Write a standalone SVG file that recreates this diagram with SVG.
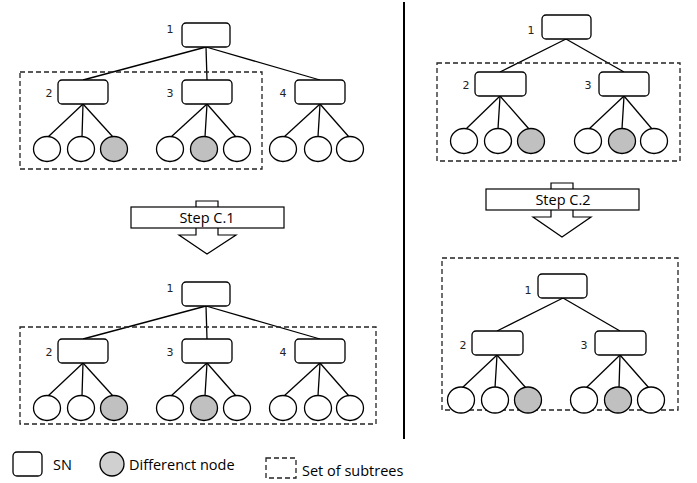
<svg xmlns="http://www.w3.org/2000/svg" width="697" height="483" viewBox="0 0 697 483">
<style>
.sn{fill:#fff;stroke:#000;stroke-width:1.3}
.lf{fill:#fff;stroke:#000;stroke-width:1.3}
.df{fill:#c0c0c0;stroke:#000;stroke-width:1.3}
.ed{stroke:#000;stroke-width:1.3;fill:none}
.box{fill:none;stroke:#222;stroke-width:1.3;stroke-dasharray:5 3}
.num{font-family:"DejaVu Sans",sans-serif;font-size:11px;fill:#222;text-anchor:middle}
.txt{font-family:"Open Sans",sans-serif;font-size:14.5px;fill:#000}
.arr{fill:#fff;stroke:#000;stroke-width:1.2}
</style>
<rect width="697" height="483" fill="#fff"/>
<line x1="404" y1="2" x2="404" y2="439" stroke="#000" stroke-width="2"/>

<!-- connectors -->
<g id="connectors" class="ed">
<!-- top-left -->
<line x1="206" y1="47" x2="83" y2="80"/><line x1="206" y1="47" x2="207" y2="80"/><line x1="206" y1="47" x2="320" y2="80"/>
<line x1="83" y1="104" x2="48" y2="137"/><line x1="83" y1="104" x2="82" y2="137"/><line x1="83" y1="104" x2="113" y2="137"/>
<line x1="207" y1="104" x2="171" y2="137"/><line x1="207" y1="104" x2="205" y2="137"/><line x1="207" y1="104" x2="236" y2="137"/>
<line x1="320" y1="104" x2="284" y2="137"/><line x1="320" y1="104" x2="318" y2="137"/><line x1="320" y1="104" x2="349" y2="137"/>
<!-- bottom-left -->
<line x1="206" y1="306" x2="83" y2="339"/><line x1="206" y1="306" x2="207" y2="339"/><line x1="206" y1="306" x2="320" y2="339"/>
<line x1="83" y1="363" x2="48" y2="396"/><line x1="83" y1="363" x2="82" y2="396"/><line x1="83" y1="363" x2="113" y2="396"/>
<line x1="207" y1="363" x2="171" y2="396"/><line x1="207" y1="363" x2="205" y2="396"/><line x1="207" y1="363" x2="236" y2="396"/>
<line x1="320" y1="363" x2="284" y2="396"/><line x1="320" y1="363" x2="318" y2="396"/><line x1="320" y1="363" x2="349" y2="396"/>
<!-- top-right -->
<line x1="566" y1="39" x2="500" y2="72"/><line x1="566" y1="39" x2="624" y2="72"/>
<line x1="500" y1="96" x2="466" y2="129"/><line x1="500" y1="96" x2="498" y2="129"/><line x1="500" y1="96" x2="529" y2="129"/>
<line x1="624" y1="96" x2="589" y2="129"/><line x1="624" y1="96" x2="622" y2="129"/><line x1="624" y1="96" x2="652" y2="129"/>
<!-- bottom-right -->
<line x1="563" y1="298" x2="497" y2="331"/><line x1="563" y1="298" x2="620" y2="331"/>
<line x1="497" y1="355" x2="462" y2="388"/><line x1="497" y1="355" x2="495" y2="388"/><line x1="497" y1="355" x2="526" y2="388"/>
<line x1="620" y1="355" x2="586" y2="388"/><line x1="620" y1="355" x2="619" y2="388"/><line x1="620" y1="355" x2="649" y2="388"/>
</g>

<!-- dashed subtree sets -->
<rect class="box" x="20" y="72" width="242" height="97"/>
<rect class="box" x="20" y="327" width="356" height="97"/>
<rect class="box" x="437" y="63" width="243" height="98"/>
<rect class="box" x="442" y="258" width="236" height="152"/>

<!-- top-left tree -->
<g id="tl-n1"><rect class="sn" x="182" y="23" width="48" height="24" rx="4"/><text class="num" x="170" y="33">1</text></g>
<g id="tl-n2"><rect class="sn" x="58" y="80" width="50" height="24" rx="4"/><text class="num" x="49" y="97">2</text></g>
<g id="tl-n3"><rect class="sn" x="182" y="80" width="50" height="24" rx="4"/><text class="num" x="170" y="97">3</text></g>
<g id="tl-n4"><rect class="sn" x="295" y="80" width="50" height="24" rx="4"/><text class="num" x="283" y="97">4</text></g>
<g id="tl-leaves">
<ellipse class="lf" cx="47" cy="149" rx="13.5" ry="12.5"/><ellipse class="lf" cx="81" cy="149" rx="13.5" ry="12.5"/><ellipse class="df" cx="114" cy="149" rx="13.5" ry="12.5"/>
<ellipse class="lf" cx="170" cy="149" rx="13.5" ry="12.5"/><ellipse class="df" cx="204" cy="149" rx="13.5" ry="12.5"/><ellipse class="lf" cx="237" cy="149" rx="13.5" ry="12.5"/>
<ellipse class="lf" cx="283" cy="149" rx="13.5" ry="12.5"/><ellipse class="lf" cx="318" cy="149" rx="13.5" ry="12.5"/><ellipse class="lf" cx="350" cy="149" rx="13.5" ry="12.5"/>
</g>

<!-- bottom-left tree -->
<g id="bl-n1"><rect class="sn" x="182" y="282" width="48" height="24" rx="4"/><text class="num" x="170" y="292">1</text></g>
<g id="bl-n2"><rect class="sn" x="58" y="339" width="50" height="24" rx="4"/><text class="num" x="49" y="356">2</text></g>
<g id="bl-n3"><rect class="sn" x="182" y="339" width="50" height="24" rx="4"/><text class="num" x="170" y="356">3</text></g>
<g id="bl-n4"><rect class="sn" x="295" y="339" width="50" height="24" rx="4"/><text class="num" x="283" y="356">4</text></g>
<g id="bl-leaves">
<ellipse class="lf" cx="47" cy="408" rx="13.5" ry="12.5"/><ellipse class="lf" cx="81" cy="408" rx="13.5" ry="12.5"/><ellipse class="df" cx="114" cy="408" rx="13.5" ry="12.5"/>
<ellipse class="lf" cx="170" cy="408" rx="13.5" ry="12.5"/><ellipse class="df" cx="204" cy="408" rx="13.5" ry="12.5"/><ellipse class="lf" cx="237" cy="408" rx="13.5" ry="12.5"/>
<ellipse class="lf" cx="283" cy="408" rx="13.5" ry="12.5"/><ellipse class="lf" cx="318" cy="408" rx="13.5" ry="12.5"/><ellipse class="lf" cx="350" cy="408" rx="13.5" ry="12.5"/>
</g>

<!-- top-right tree -->
<g id="tr-n1"><rect class="sn" x="542" y="15" width="49" height="24" rx="4"/><text class="num" x="531" y="34">1</text></g>
<g id="tr-n2"><rect class="sn" x="475" y="72" width="51" height="24" rx="4"/><text class="num" x="466" y="89">2</text></g>
<g id="tr-n3"><rect class="sn" x="599" y="72" width="50" height="24" rx="4"/><text class="num" x="588" y="89">3</text></g>
<g id="tr-leaves">
<ellipse class="lf" cx="464" cy="141" rx="13.5" ry="12.5"/><ellipse class="lf" cx="498" cy="141" rx="13.5" ry="12.5"/><ellipse class="df" cx="531" cy="141" rx="13.5" ry="12.5"/>
<ellipse class="lf" cx="588" cy="141" rx="13.5" ry="12.5"/><ellipse class="df" cx="622" cy="141" rx="13.5" ry="12.5"/><ellipse class="lf" cx="654" cy="141" rx="13.5" ry="12.5"/>
</g>

<!-- bottom-right tree -->
<g id="br-n1"><rect class="sn" x="538" y="274" width="49" height="24" rx="4"/><text class="num" x="528" y="294">1</text></g>
<g id="br-n2"><rect class="sn" x="472" y="331" width="51" height="24" rx="4"/><text class="num" x="463" y="349">2</text></g>
<g id="br-n3"><rect class="sn" x="595" y="331" width="51" height="24" rx="4"/><text class="num" x="584" y="349">3</text></g>
<g id="br-leaves">
<ellipse class="lf" cx="461" cy="400" rx="13.5" ry="13"/><ellipse class="lf" cx="495" cy="400" rx="13.5" ry="13"/><ellipse class="df" cx="528" cy="400" rx="13.5" ry="13"/>
<ellipse class="lf" cx="584" cy="400" rx="13.5" ry="13"/><ellipse class="df" cx="618" cy="400" rx="13.5" ry="13"/><ellipse class="lf" cx="651" cy="400" rx="13.5" ry="13"/>
</g>

<!-- step arrows -->
<g id="step-c1">
<polygon class="arr" points="196,201 218,201 218,235 236,235 207,254 179,235 196,235"/>
<rect class="arr" x="131" y="207" width="153" height="21"/>
<text class="txt" x="207" y="223" text-anchor="middle">Step C.1</text>
</g>
<g id="step-c2">
<polygon class="arr" points="551,183 573,183 573,217 591,217 562,237 533,217 551,217"/>
<rect class="arr" x="486" y="189" width="153" height="21"/>
<text class="txt" x="563" y="205" text-anchor="middle">Step C.2</text>
</g>

<!-- legend -->
<g id="legend">
<rect class="sn" x="13" y="452" width="29" height="24" rx="4"/>
<text class="txt" x="53" y="470">SN</text>
<circle cx="112" cy="464" r="12" fill="#d0d0d0" stroke="#000" stroke-width="1.3"/>
<text class="txt" x="129" y="470">Differenct node</text>
<rect class="box" x="266" y="458" width="30" height="20"/>
<text class="txt" x="302" y="476">Set of subtrees</text>
</g>
</svg>
